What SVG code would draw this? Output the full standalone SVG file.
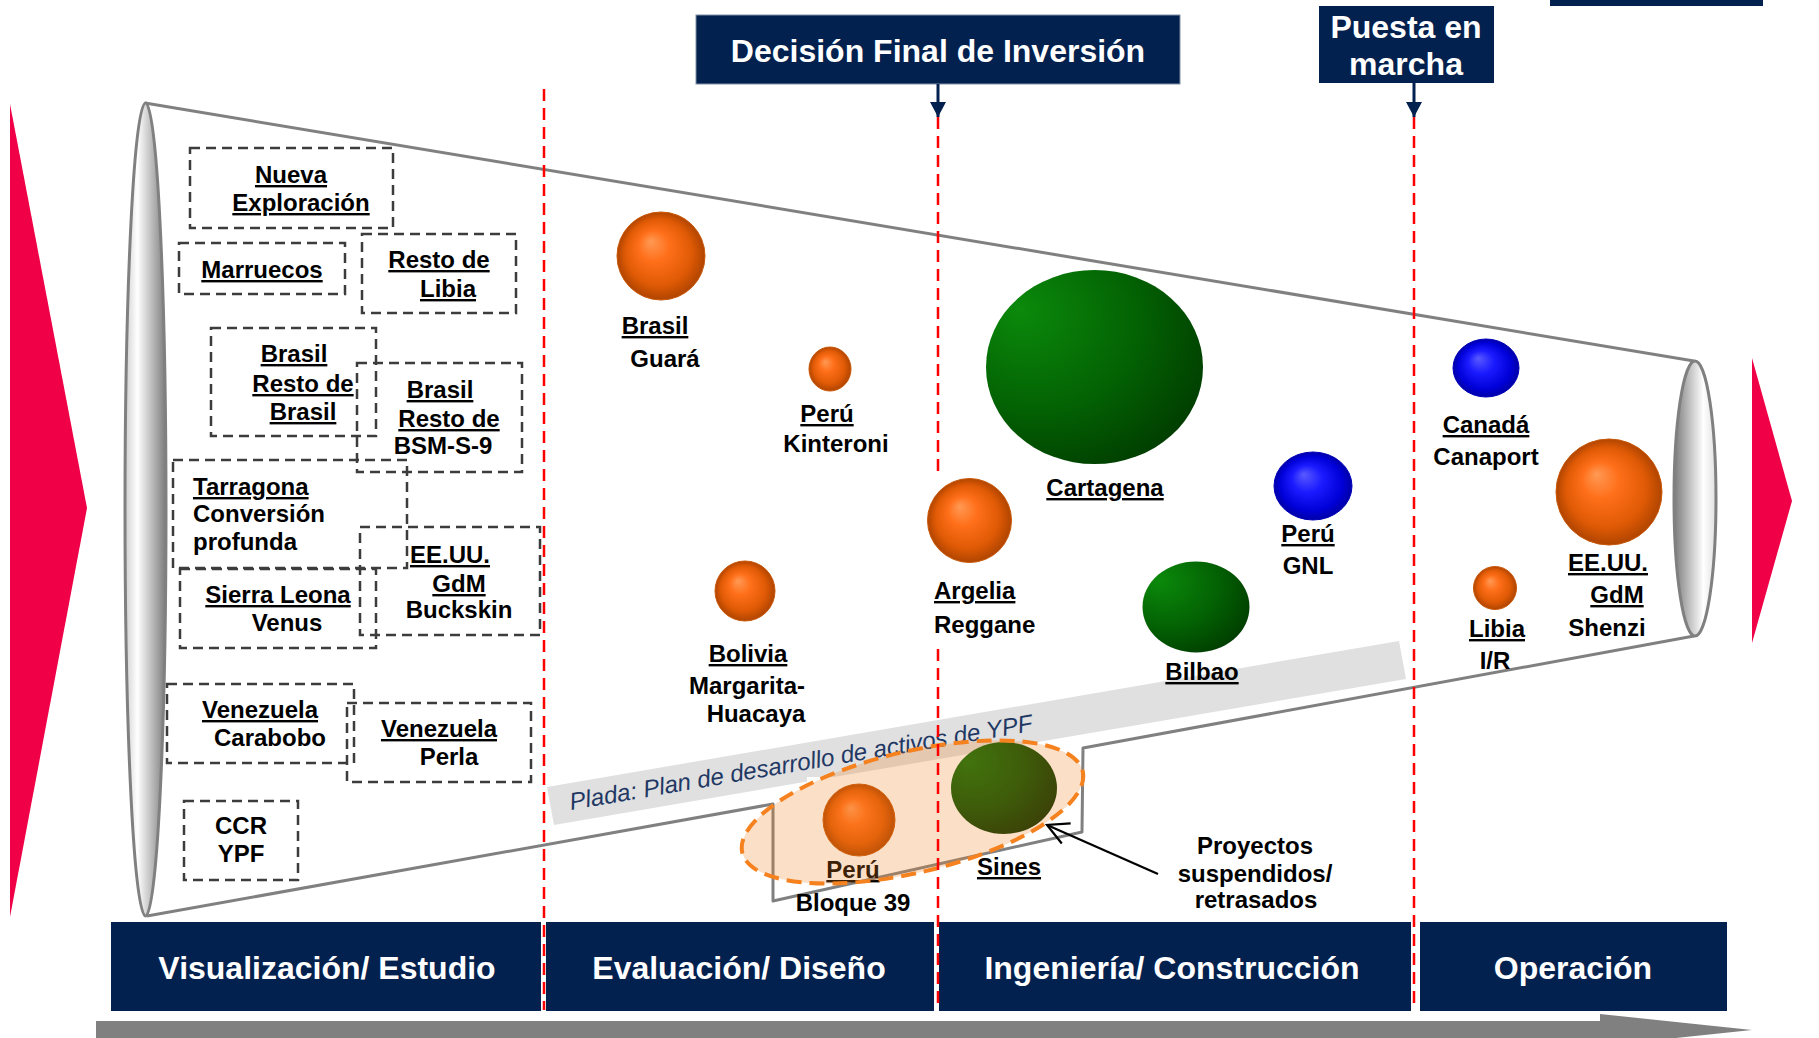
<svg xmlns="http://www.w3.org/2000/svg" width="1819" height="1038" viewBox="0 0 1819 1038">
<defs>
<style>
.lbl{font-family:"Liberation Sans",Arial,sans-serif;font-weight:bold;font-size:24px;fill:#000;text-anchor:middle}
.st{text-anchor:start}
.u{text-decoration:underline;text-decoration-thickness:2.5px;text-underline-offset:3px}
.box{fill:none;stroke:#3c3c3c;stroke-width:2.5;stroke-dasharray:10 6}
.navy{fill:#03214f}
.hdr{font-family:"Liberation Sans",Arial,sans-serif;font-weight:bold;font-size:32px;fill:#fff;text-anchor:middle}
.vline{stroke:#ff0000;stroke-width:2.5;stroke-dasharray:12 7;fill:none}
.funnel{fill:none;stroke:#808080;stroke-width:3;stroke-linejoin:round}
.or{fill:url(#gOr);stroke:#c95708;stroke-width:1}
.bl{fill:url(#gBl);stroke:#0000b8;stroke-width:1}
.gr{fill:url(#gGr)}
</style>
<radialGradient id="gOr" cx="0.5" cy="0.5" r="0.5" fx="0.38" fy="0.33">
<stop offset="0" stop-color="#ff9a55"/>
<stop offset="0.35" stop-color="#ff6f1a"/>
<stop offset="0.75" stop-color="#e05a05"/>
<stop offset="1" stop-color="#b04500"/>
</radialGradient>
<radialGradient id="gBl" cx="0.5" cy="0.5" r="0.5" fx="0.38" fy="0.33">
<stop offset="0" stop-color="#5a5aff"/>
<stop offset="0.4" stop-color="#1a1aff"/>
<stop offset="0.8" stop-color="#0000d8"/>
<stop offset="1" stop-color="#0000a8"/>
</radialGradient>
<radialGradient id="gGr" cx="0.3" cy="0.3" r="0.85" fx="0.15" fy="0.2">
<stop offset="0" stop-color="#0b8a0b"/>
<stop offset="0.55" stop-color="#036203"/>
<stop offset="1" stop-color="#003800"/>
</radialGradient>
<radialGradient id="gGrD" cx="0.3" cy="0.3" r="0.85" fx="0.15" fy="0.2">
<stop offset="0" stop-color="#087008"/>
<stop offset="0.55" stop-color="#035003"/>
<stop offset="1" stop-color="#002800"/>
</radialGradient>
<linearGradient id="gCylL" x1="0" y1="0" x2="1" y2="0">
<stop offset="0" stop-color="#cfcfcf"/>
<stop offset="0.3" stop-color="#ffffff"/>
<stop offset="1" stop-color="#7a7a7a"/>
</linearGradient>
<linearGradient id="gCylR" x1="0" y1="0" x2="1" y2="0">
<stop offset="0" stop-color="#7a7a7a"/>
<stop offset="0.7" stop-color="#ffffff"/>
<stop offset="1" stop-color="#e0e0e0"/>
</linearGradient>
<marker id="mSolid" viewBox="0 0 15 16" refX="15" refY="8" markerWidth="15" markerHeight="16" markerUnits="userSpaceOnUse" orient="auto">
<path d="M0,0 L15,8 L0,16 Z" fill="#03214f"/>
</marker>
<marker id="mOpen" viewBox="0 0 22 24" refX="21" refY="12" markerWidth="22" markerHeight="24" markerUnits="userSpaceOnUse" orient="auto" overflow="visible">
<path d="M0,1 L21,12 L0,23" fill="none" stroke="#000" stroke-width="2.2"/>
</marker>
</defs>

<rect width="1819" height="1038" fill="#ffffff"/>

<!-- red side triangles -->
<polygon points="10,104 87,508 10,917" fill="#ef0047"/>
<polygon points="1752,358 1792,501 1752,643" fill="#ef0047"/>

<!-- funnel -->
<g id="funnel">
<line class="funnel" x1="145" y1="103" x2="1694" y2="361"/>
<polyline class="funnel" points="147,916 773,804 773,901 1082,832 1083,748 1694,636"/>
<ellipse cx="145.5" cy="509.5" rx="20.5" ry="406.5" fill="url(#gCylL)" stroke="#808080" stroke-width="3"/>
<ellipse cx="1695" cy="498.5" rx="21" ry="137.5" fill="url(#gCylR)" stroke="#808080" stroke-width="3"/>
</g>

<!-- Plada band -->
<g id="plada">
<polygon points="547,787 1399,641 1406,679 554,825" fill="#e0e0e0"/>
<text x="571" y="810" transform="rotate(-9.72 571 810)" font-family="Liberation Sans, Arial, sans-serif" font-style="italic" font-size="24" fill="#1f3864">Plada: Plan de desarrollo de activos de YPF</text>
<rect x="807" y="777" width="40" height="30" fill="#ffffff"/>
</g>

<!-- left dashed boxes -->
<g id="n-nueva"><rect class="box" x="190" y="148" width="203" height="80"/>
<text class="lbl u" x="291" y="183">Nueva</text><text class="lbl u" x="301" y="211">Exploración</text></g>
<g id="n-marruecos"><rect class="box" x="179" y="243" width="166" height="51"/>
<text class="lbl u" x="262" y="278">Marruecos</text></g>
<g id="n-libia"><rect class="box" x="362" y="234" width="154" height="79"/>
<text class="lbl u" x="439" y="268">Resto de</text><text class="lbl u" x="448" y="297">Libia</text></g>
<g id="n-brasil-resto"><rect class="box" x="211" y="328" width="165" height="108"/>
<text class="lbl u" x="294" y="362">Brasil</text><text class="lbl u" x="303" y="392">Resto de</text><text class="lbl u" x="303" y="420">Brasil</text></g>
<g id="n-brasil-bsm"><rect class="box" x="357" y="363" width="165" height="109"/>
<text class="lbl u" x="440" y="398">Brasil</text><text class="lbl u" x="449" y="427">Resto de</text><text class="lbl" x="443" y="454">BSM-S-9</text></g>
<g id="n-tarragona"><rect class="box" x="173" y="460" width="234" height="108"/>
<text class="lbl st u" x="193" y="495">Tarragona</text><text class="lbl st" x="193" y="522">Conversión</text><text class="lbl st" x="193" y="550">profunda</text></g>
<g id="n-buckskin"><rect class="box" x="360" y="527" width="180" height="108"/>
<text class="lbl u" x="450" y="563">EE.UU.</text><text class="lbl u" x="459" y="592">GdM</text><text class="lbl" x="459" y="618">Buckskin</text></g>
<g id="n-sierra"><rect class="box" x="180" y="569" width="196" height="79"/>
<text class="lbl u" x="278" y="603">Sierra Leona</text><text class="lbl" x="287" y="631">Venus</text></g>
<g id="n-carabobo"><rect class="box" x="167" y="684" width="187" height="79"/>
<text class="lbl u" x="260" y="718">Venezuela</text><text class="lbl" x="270" y="746">Carabobo</text></g>
<g id="n-perla"><rect class="box" x="347" y="703" width="184" height="79"/>
<text class="lbl u" x="439" y="737">Venezuela</text><text class="lbl" x="449" y="765">Perla</text></g>
<g id="n-ccr"><rect class="box" x="184" y="801" width="114" height="79"/>
<text class="lbl" x="241" y="834">CCR</text><text class="lbl" x="241" y="862">YPF</text></g>

<!-- project balls -->
<g id="n-guara"><circle class="or" cx="661" cy="256" r="44"/>
<text class="lbl u" x="655" y="334">Brasil</text><text class="lbl" x="665" y="367">Guará</text></g>
<g id="n-kinteroni"><ellipse class="or" cx="830" cy="369" rx="21" ry="22"/>
<text class="lbl u" x="827" y="422">Perú</text><text class="lbl" x="836" y="452">Kinteroni</text></g>
<g id="n-bolivia"><circle class="or" cx="745" cy="591" r="30"/>
<text class="lbl u" x="748" y="662">Bolivia</text><text class="lbl" x="747" y="694">Margarita-</text><text class="lbl" x="756" y="722">Huacaya</text></g>
<g id="n-cartagena"><ellipse class="gr" cx="1094.5" cy="367" rx="108.5" ry="97"/>
<text class="lbl u" x="1105" y="496">Cartagena</text></g>
<g id="n-gnl"><ellipse class="bl" cx="1313" cy="486" rx="39" ry="34"/>
<text class="lbl u" x="1308" y="542">Perú</text><text class="lbl" x="1308" y="574">GNL</text></g>
<g id="n-bilbao"><ellipse class="gr" cx="1196" cy="607" rx="53.5" ry="45.5"/>
<text class="lbl u" x="1202" y="680">Bilbao</text></g>
<g id="n-canada"><ellipse class="bl" cx="1486" cy="368" rx="33" ry="29"/>
<text class="lbl u" x="1486" y="433">Canadá</text><text class="lbl" x="1486" y="465">Canaport</text></g>
<g id="n-libia-ir"><circle class="or" cx="1495" cy="588" r="21.5"/>
<text class="lbl u" x="1497" y="637">Libia</text><text class="lbl" x="1495" y="669">I/R</text></g>
<g id="n-shenzi"><circle class="or" cx="1609" cy="492" r="53"/>
<text class="lbl u" x="1608" y="571">EE.UU.</text><text class="lbl u" x="1617" y="603">GdM</text><text class="lbl" x="1607" y="636">Shenzi</text></g>
<g id="n-bloque39"><circle class="or" cx="859" cy="820" r="36"/>
<text class="lbl u" x="853" y="878">Perú</text><text class="lbl" x="853" y="911">Bloque 39</text></g>
<g id="n-sines"><ellipse cx="1004" cy="788" rx="53" ry="46" fill="url(#gGrD)"/>
<text class="lbl u" x="1009" y="875">Sines</text></g>

<!-- suspended projects highlight -->
<g id="n-suspendidos">
<ellipse cx="912.5" cy="812" rx="175" ry="60.5" transform="rotate(-13.45 912.5 812)" fill="#f08020" fill-opacity="0.25" stroke="#f5821f" stroke-width="4" stroke-dasharray="15 8"/>
<text class="lbl" x="1255" y="854">Proyectos</text>
<text class="lbl" x="1255" y="882">suspendidos/</text>
<text class="lbl" x="1256" y="908">retrasados</text>
</g>

<!-- phase bars -->
<g id="phases">
<rect class="navy" x="111" y="922" width="430" height="89"/>
<rect class="navy" x="546" y="922" width="388" height="89"/>
<rect class="navy" x="939" y="922" width="472" height="89"/>
<rect class="navy" x="1420" y="922" width="307" height="89"/>
<text class="hdr" x="327" y="979">Visualización/ Estudio</text>
<text class="hdr" x="739" y="979">Evaluación/ Diseño</text>
<text class="hdr" x="1172" y="979">Ingeniería/ Construcción</text>
<text class="hdr" x="1573" y="979">Operación</text>
</g>

<!-- milestone dashed lines -->
<g id="milestones">
<line class="vline" x1="544" y1="89" x2="544" y2="1010"/>
<line class="vline" x1="938" y1="117" x2="938" y2="1010"/>
<line class="vline" x1="1414" y1="117" x2="1414" y2="1010"/>
</g>

<g id="n-argelia">
<rect x="926" y="477" width="110" height="171" fill="#ffffff"/>
<circle class="or" cx="969.5" cy="520.5" r="42"/>
<text class="lbl st u" x="934" y="599">Argelia</text><text class="lbl st" x="934" y="633">Reggane</text>
</g>

<!-- milestone headers -->
<g id="n-fid">
<rect class="navy" x="696" y="15" width="484" height="69" stroke="#8090a8" stroke-width="1"/>
<text class="hdr" x="938" y="62">Decisión Final de Inversión</text>
</g>
<g id="n-puesta">
<rect class="navy" x="1319" y="6" width="175" height="77"/>
<text class="hdr" x="1406" y="38">Puesta en</text>
<text class="hdr" x="1406" y="75">marcha</text>
</g>
<rect class="navy" x="1550" y="0" width="213" height="6"/>

<!-- connectors -->
<g id="connectors">
<line x1="938" y1="84" x2="938" y2="117" stroke="#03214f" stroke-width="3" marker-end="url(#mSolid)"/>
<line x1="1414" y1="83" x2="1414" y2="117" stroke="#03214f" stroke-width="3" marker-end="url(#mSolid)"/>
<line x1="1158" y1="874" x2="1047" y2="825" stroke="#000" stroke-width="2.2" marker-end="url(#mOpen)"/>
</g>

<!-- time arrow -->
<path d="M96,1021 L1600,1021 L1600,1014 L1752,1030 L1600,1046 L1600,1039 L96,1039 Z" fill="#808080"/>
</svg>
